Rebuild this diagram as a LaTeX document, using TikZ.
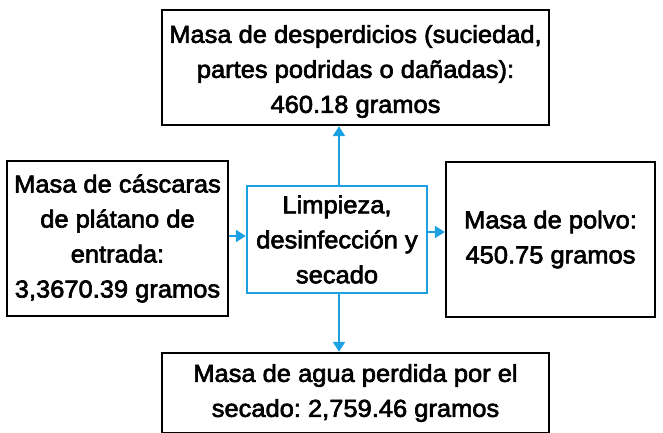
\documentclass[tikz,border=0pt]{standalone}
\usepackage{fontspec}
\setmainfont[FakeBold=2.6,FakeStretch=1.04]{Liberation Sans}
\usetikzlibrary{arrows.meta}
\definecolor{flowblue}{RGB}{27,161,226}
\tikzset{
  boxtext/.style={align=center, inner sep=0pt,
    font=\fontsize{24.5}{35}\selectfont\frenchspacing},
  blackbox/.style={boxtext, draw=black, line width=2.4pt},
  bluebox/.style={boxtext, draw=flowblue, line width=2.4pt},
  flow/.style={draw=flowblue, line width=2.4pt, -{Triangle[width=12pt,length=10pt]}}
}
\begin{document}
\begin{tikzpicture}[x=1pt,y=-1pt]
\useasboundingbox (0,0) rectangle (663,432);
\node[blackbox, minimum width=387pt, minimum height=115pt] (t) at (355.5,67.5) {};
\node[boxtext] (tt) at (355.5,71.5)
  {Masa de desperdicios (suciedad,\\partes podridas o dañadas):\\460.18 gramos};
\node[blackbox, minimum width=221pt, minimum height=155pt] (l) at (117.5,238.5)
  {Masa de cáscaras\\de plátano de\\entrada:\\3,3670.39 gramos};
\node[bluebox, minimum width=180pt, minimum height=107pt] (m) at (337,239.5)
  {Limpieza,\\desinfección y\\secado};
\node[blackbox, minimum width=209pt, minimum height=155pt] (r) at (550.5,239.5)
  {Masa de polvo:\\450.75 gramos};
\node[blackbox, minimum width=387pt, minimum height=80pt] (b) at (355.5,393)
  {Masa de agua perdida por el\\secado: 2,759.46 gramos};
\draw[flow] ([yshift=2.5pt]l.east) -- ([yshift=3.5pt]m.west);
\draw[flow] ([yshift=7.5pt]m.east) -- ([yshift=7.5pt]r.west);
\draw[flow] ([xshift=2pt]m.north) -- ([xshift=2pt]m.north |- t.south);
\draw[flow] ([xshift=2pt]m.south) -- ([xshift=2pt]m.south |- b.north);
\end{tikzpicture}
\end{document}
